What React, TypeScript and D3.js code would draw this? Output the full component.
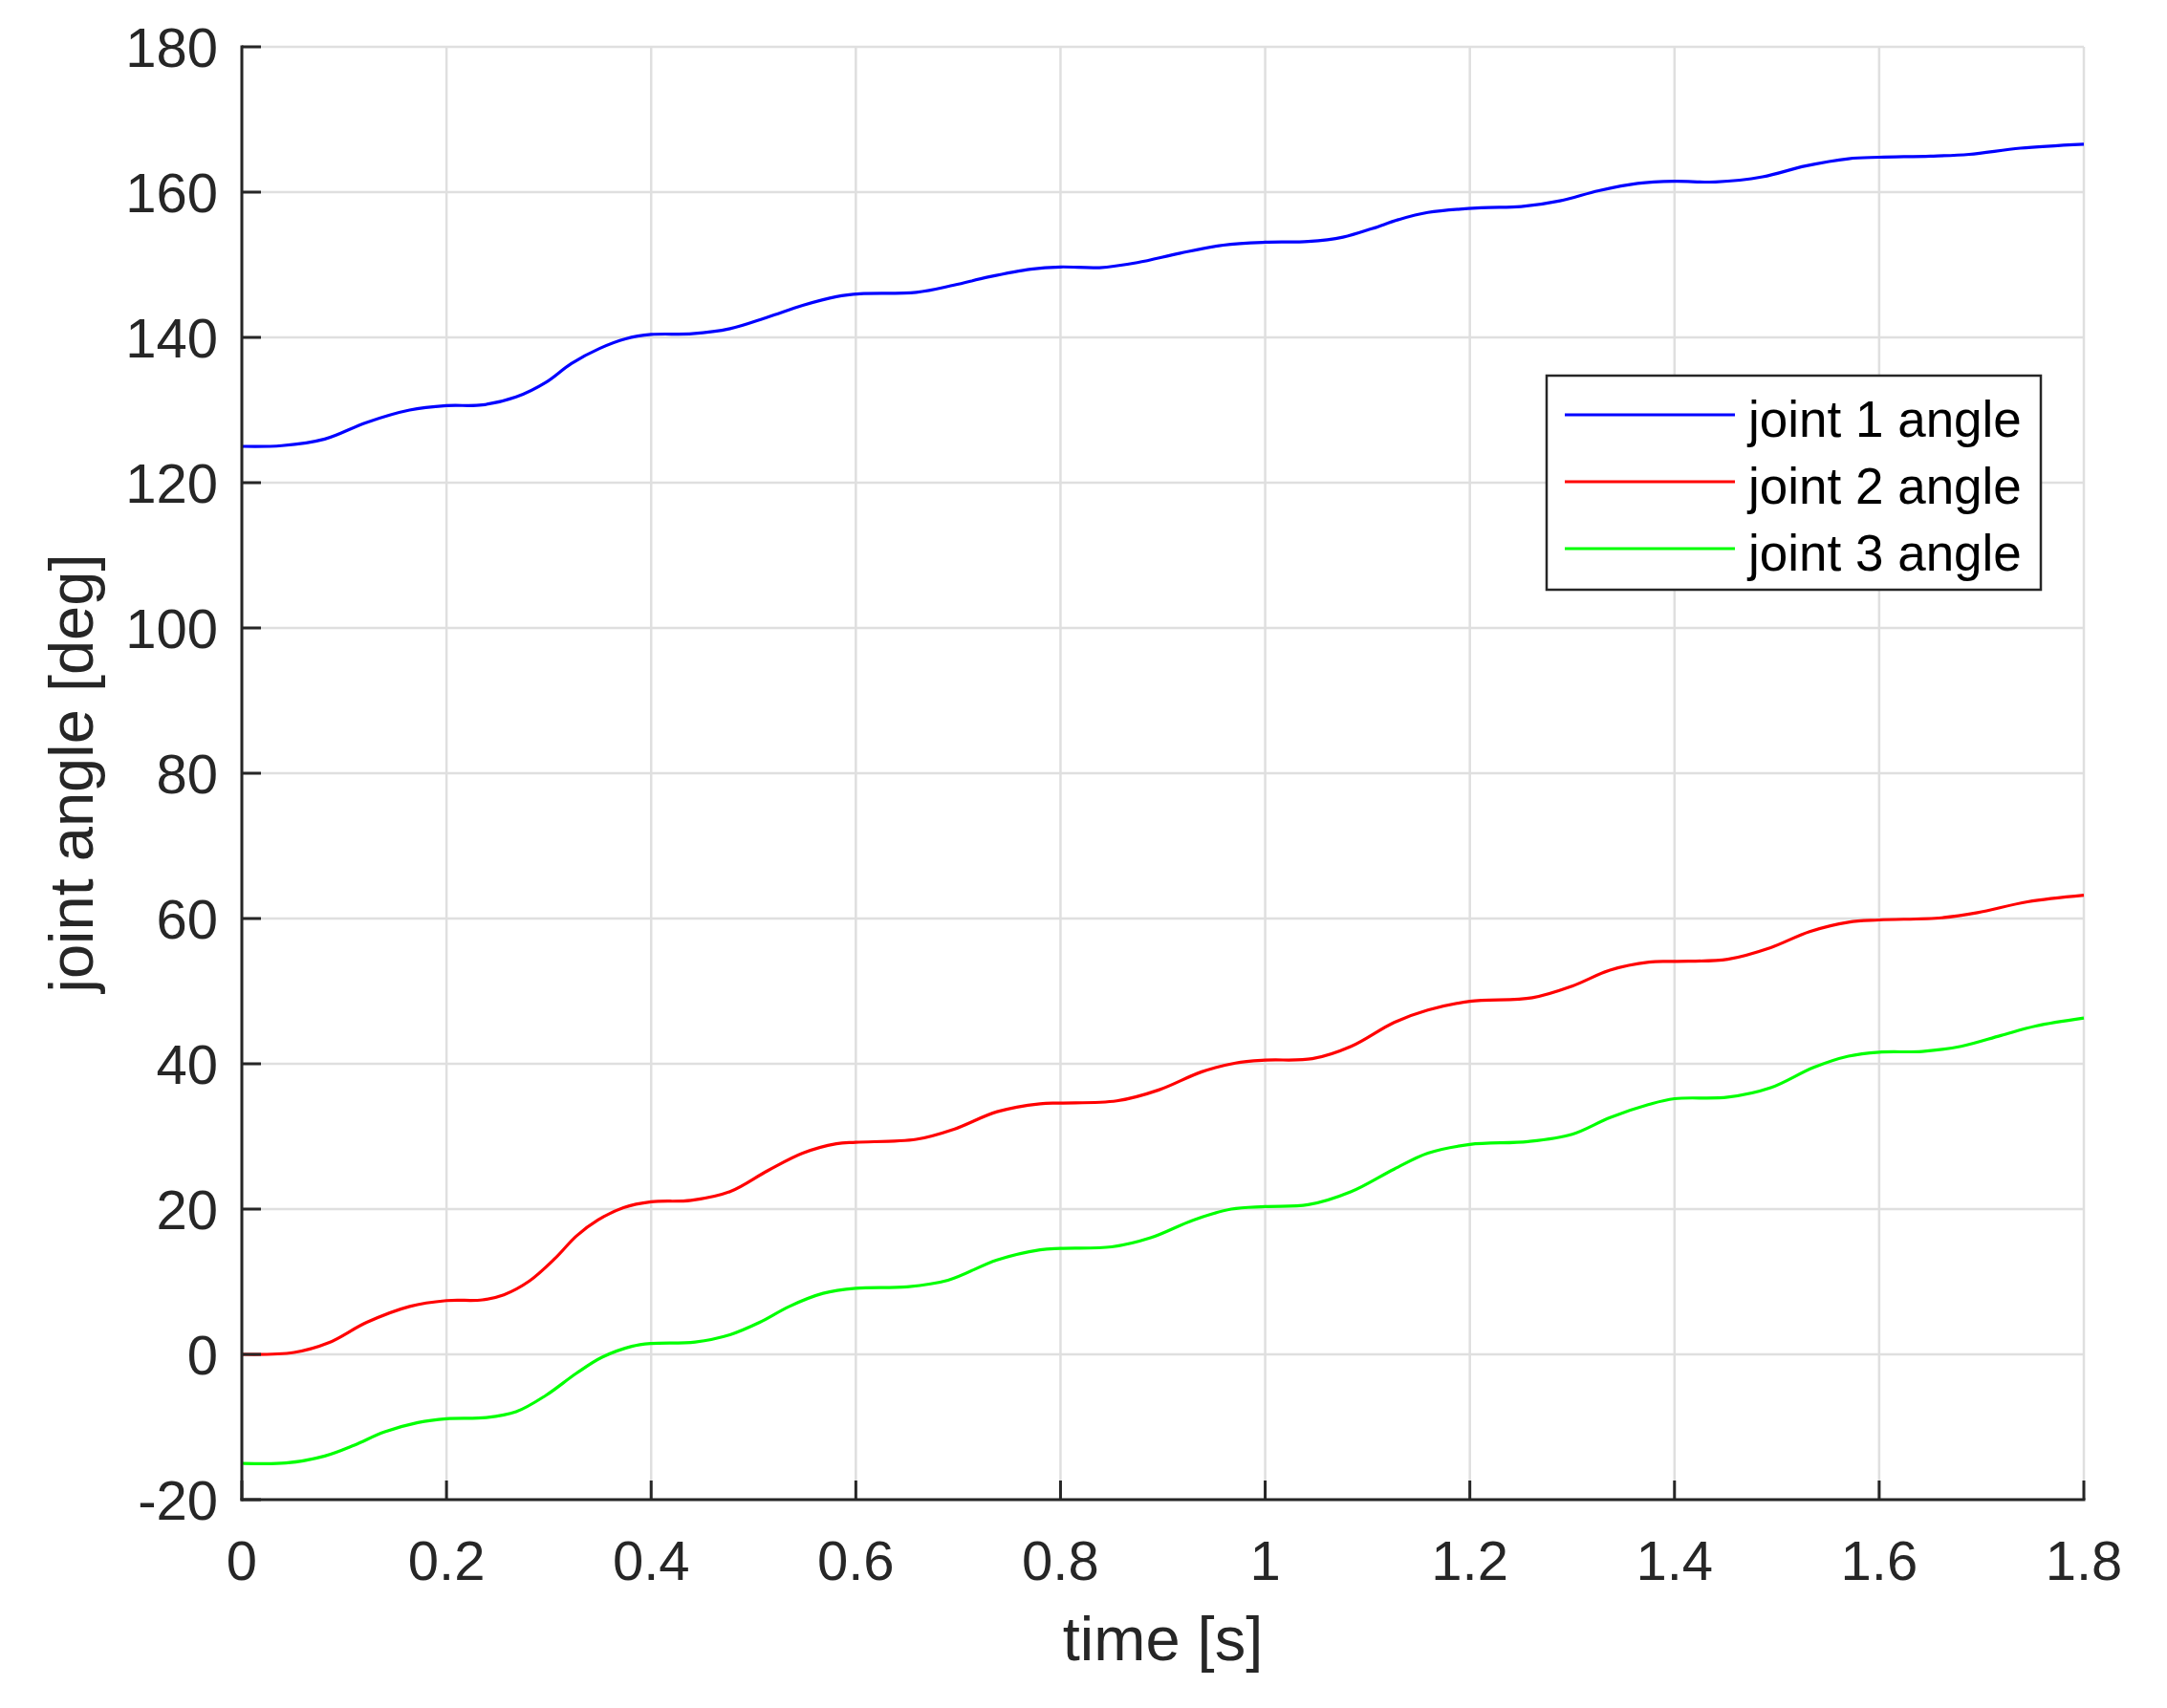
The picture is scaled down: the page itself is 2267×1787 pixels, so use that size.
import React from "react";
import * as d3 from "d3";

const xTicks = [0, 0.2, 0.4, 0.6, 0.8, 1, 1.2, 1.4, 1.6, 1.8];
const xTickLabels = ["0", "0.2", "0.4", "0.6", "0.8", "1", "1.2", "1.4", "1.6", "1.8"];
const yTicks = [-20, 0, 20, 40, 60, 80, 100, 120, 140, 160, 180];

const joint1T = [0, 0.039, 0.081, 0.122, 0.164, 0.2, 0.235, 0.268, 0.297, 0.322, 0.35, 0.375, 0.4, 0.44, 0.477, 0.514, 0.548, 0.581, 0.604, 0.659, 0.696, 0.729, 0.771, 0.8, 0.838, 0.875, 0.917, 0.959, 1.0, 1.042, 1.076, 1.105, 1.13, 1.159, 1.211, 1.25, 1.288, 1.326, 1.364, 1.4, 1.44, 1.486, 1.528, 1.57, 1.6, 1.65, 1.688, 1.738, 1.8];
const joint1A = [125.0, 125.1, 126.0, 128.3, 130.0, 130.6, 130.7, 131.8, 133.8, 136.4, 138.5, 139.8, 140.4, 140.5, 141.2, 142.8, 144.4, 145.6, 146.0, 146.2, 147.2, 148.3, 149.4, 149.7, 149.6, 150.3, 151.6, 152.7, 153.1, 153.2, 153.8, 155.0, 156.2, 157.2, 157.85, 158.0, 158.8, 160.2, 161.2, 161.5, 161.4, 162.1, 163.6, 164.6, 164.8, 164.95, 165.2, 166.05, 166.6];

const joint2T = [0, 0.051, 0.085, 0.122, 0.164, 0.2, 0.235, 0.256, 0.281, 0.306, 0.327, 0.348, 0.373, 0.4, 0.439, 0.477, 0.514, 0.548, 0.581, 0.6, 0.659, 0.696, 0.738, 0.78, 0.8, 0.855, 0.896, 0.938, 0.971, 1.0, 1.046, 1.084, 1.126, 1.159, 1.2, 1.261, 1.3, 1.337, 1.375, 1.4, 1.452, 1.494, 1.532, 1.57, 1.6, 1.661, 1.696, 1.745, 1.8];
const joint2A = [0, 0.26, 1.6, 4.4, 6.6, 7.4, 7.5, 8.2, 10.1, 13.2, 16.3, 18.5, 20.2, 21.0, 21.2, 22.4, 25.3, 27.7, 29.0, 29.2, 29.6, 31.0, 33.4, 34.5, 34.6, 34.9, 36.4, 38.9, 40.1, 40.5, 40.7, 42.4, 45.7, 47.4, 48.6, 49.1, 50.7, 52.9, 54.0, 54.1, 54.4, 56.0, 58.2, 59.5, 59.8, 60.1, 60.8, 62.3, 63.2];

const joint3T = [0, 0.043, 0.081, 0.11, 0.139, 0.172, 0.2, 0.239, 0.268, 0.297, 0.327, 0.352, 0.381, 0.4, 0.443, 0.477, 0.506, 0.535, 0.568, 0.6, 0.65, 0.69, 0.738, 0.78, 0.8, 0.85, 0.888, 0.93, 0.967, 1.0, 1.042, 1.084, 1.126, 1.159, 1.2, 1.257, 1.3, 1.337, 1.375, 1.4, 1.452, 1.494, 1.536, 1.57, 1.6, 1.642, 1.68, 1.719, 1.753, 1.8];
const joint3A = [-15.0, -14.96, -14.0, -12.5, -10.7, -9.4, -8.86, -8.7, -7.9, -5.66, -2.6, -0.4, 1.1, 1.5, 1.7, 2.7, 4.4, 6.6, 8.4, 9.1, 9.3, 10.2, 13.0, 14.4, 14.6, 14.8, 16.05, 18.5, 20.0, 20.35, 20.6, 22.4, 25.5, 27.7, 28.9, 29.3, 30.3, 32.6, 34.4, 35.2, 35.4, 36.7, 39.5, 41.05, 41.6, 41.7, 42.4, 43.9, 45.2, 46.3];

const seriesNames = ["joint 1 angle", "joint 2 angle", "joint 3 angle"];
const seriesColors = ["#0000ff", "#ff0000", "#00ff00"];

const W = 2267;
const H = 1787;
const L = 253, R = 2180, T = 49, B = 1569;
const FONT = "'Liberation Sans', Arial, Helvetica, sans-serif";
const AX = "#262626";
const GRID = "#dfdfdf";

export default function App() {
  const x = d3.scaleLinear().domain([0, 1.8]).range([L, R]);
  const y = d3.scaleLinear().domain([-20, 180]).range([B, T]);
  const line = d3
    .line<[number, number]>()
    .x((d) => x(d[0]))
    .y((d) => y(d[1]))
    .curve(d3.curveCatmullRom.alpha(0.5));

  const series = [
    joint1T.map((t, i) => [t, joint1A[i]] as [number, number]),
    joint2T.map((t, i) => [t, joint2A[i]] as [number, number]),
    joint3T.map((t, i) => [t, joint3A[i]] as [number, number]),
  ];

  const legX0 = 1618, legY0 = 393, legX1 = 2135, legY1 = 617;
  const legLineX0 = 1637, legLineX1 = 1815, legTextX = 1829;
  const legRowY = [434, 504, 574];

  return (
    <svg
      width={W}
      height={H}
      style={{ position: "absolute", left: 0, top: 0, background: "#fff" }}
      fontFamily={FONT}
    >
      <rect x={0} y={0} width={W} height={H} fill="#fff" />
      <defs>
        <clipPath id="plotclip">
          <rect x={L} y={T - 2} width={R - L + 2} height={B - T + 4} />
        </clipPath>
      </defs>
      {xTicks.map((t) => (
        <line key={"gx" + t} x1={x(t)} x2={x(t)} y1={T} y2={B} stroke={GRID} strokeWidth={2.5} />
      ))}
      {yTicks.map((v) => (
        <line key={"gy" + v} x1={L} x2={R} y1={y(v)} y2={y(v)} stroke={GRID} strokeWidth={2.5} />
      ))}
      <g clipPath="url(#plotclip)">
        {series.map((s, i) => (
          <path key={i} d={line(s) || ""} fill="none" stroke={seriesColors[i]} strokeWidth={3.2} strokeLinejoin="round" />
        ))}
      </g>
      <line x1={L} x2={L} y1={T - 1.5} y2={B + 1.5} stroke={AX} strokeWidth={3} />
      <line x1={L - 1.5} x2={R + 1.5} y1={B} y2={B} stroke={AX} strokeWidth={3} />
      {xTicks.map((t) => (
        <line key={"tx" + t} x1={x(t)} x2={x(t)} y1={B} y2={B - 20} stroke={AX} strokeWidth={3} />
      ))}
      {yTicks.map((v) => (
        <line key={"ty" + v} x1={L} x2={L + 20} y1={y(v)} y2={y(v)} stroke={AX} strokeWidth={3} />
      ))}
      {xTicks.map((t, i) => (
        <text key={"lx" + t} x={x(t)} y={1653} textAnchor="middle" fontSize={58} fill={AX}>
          {xTickLabels[i]}
        </text>
      ))}
      {yTicks.map((v) => (
        <text key={"ly" + v} x={228} y={y(v) + 21} textAnchor="end" fontSize={58} fill={AX}>
          {String(v)}
        </text>
      ))}
      <text x={(L + R) / 2} y={1737} textAnchor="middle" fontSize={65} fill={AX}>
        time [s]
      </text>
      <text
        transform={`translate(97, ${(T + B) / 2}) rotate(-90)`}
        textAnchor="middle"
        fontSize={65}
        fill={AX}
      >
        joint angle [deg]
      </text>
      <rect x={legX0} y={legY0} width={legX1 - legX0} height={legY1 - legY0} fill="#fff" stroke={AX} strokeWidth={2.5} />
      {seriesNames.map((n, i) => (
        <g key={n}>
          <line x1={legLineX0} x2={legLineX1} y1={legRowY[i]} y2={legRowY[i]} stroke={seriesColors[i]} strokeWidth={3} />
          <text x={legTextX} y={legRowY[i] + 23} fontSize={53} fill="#000">
            {n}
          </text>
        </g>
      ))}
    </svg>
  );
}
